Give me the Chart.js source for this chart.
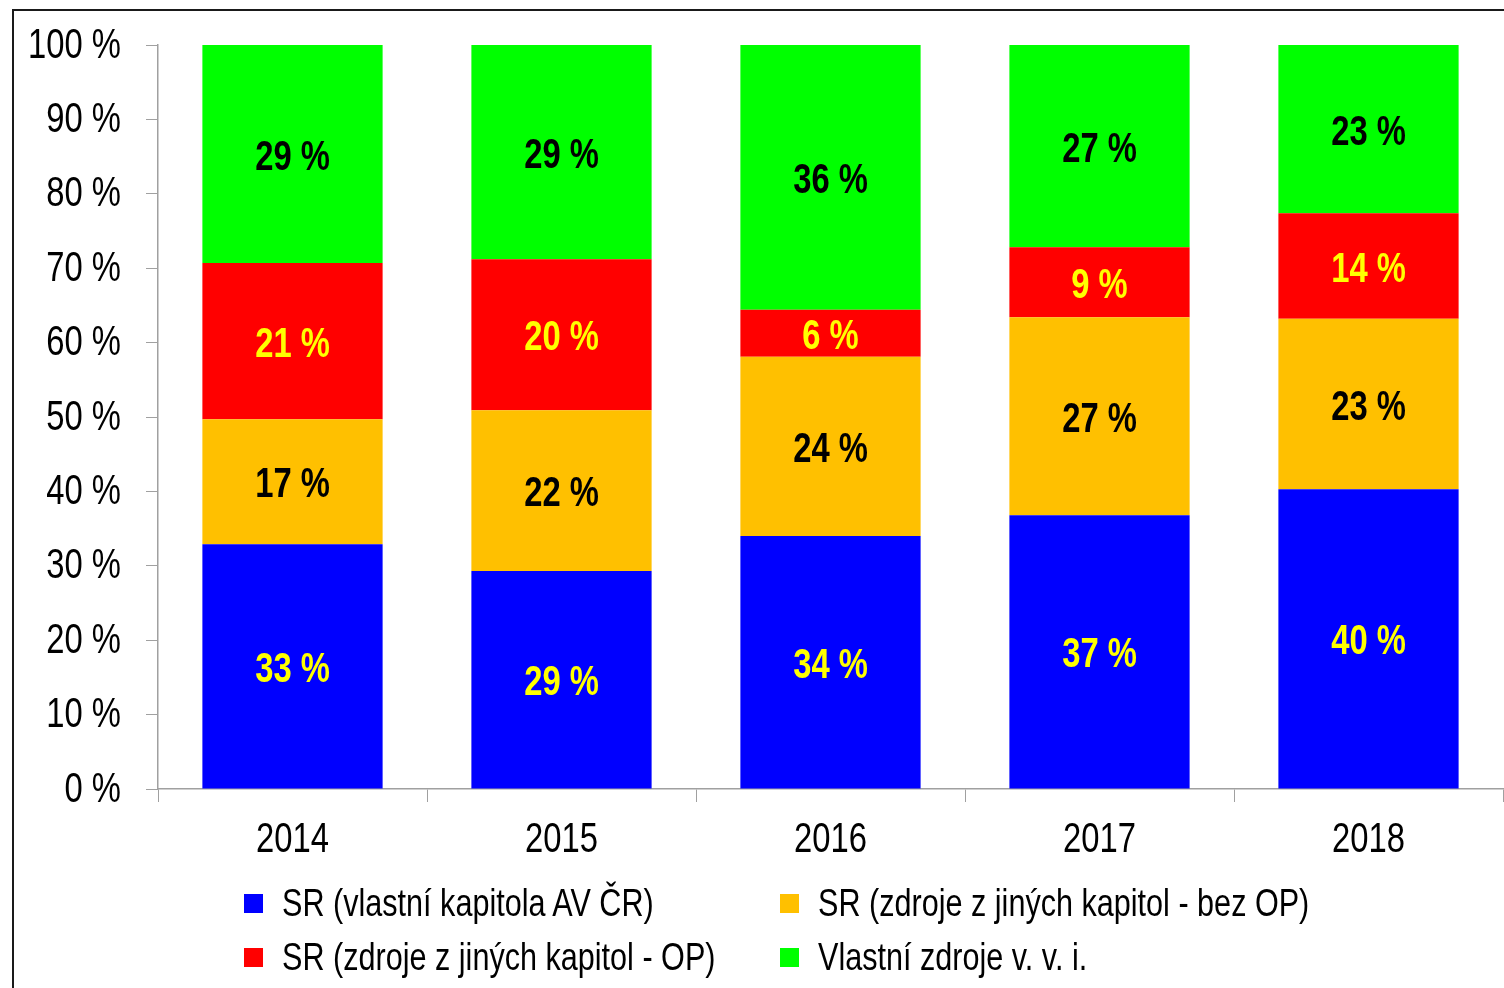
<!DOCTYPE html>
<html>
<head>
<meta charset="utf-8">
<script src="https://cdn.jsdelivr.net/npm/chart.js@4.4.1/dist/chart.umd.min.js"></script>
<style>
    html, body { margin: 0; padding: 0; background: #fff; overflow: hidden; }
    #page { position: relative; width: 1504px; height: 988px; }
    #frame {
        position: absolute; left: 12px; top: 9px; width: 1600px; height: 1100px;
        border: 2px solid #1a1a1a; box-sizing: border-box;
    }
    #chart { position: absolute; left: 0; top: 0; }
    #legend { position: absolute; left: 0; top: 0; width: 1504px; height: 988px; pointer-events: none; }
    .legend-item { position: absolute; height: 50px; display: flex; align-items: center; white-space: nowrap; }
    .legend-box { width: 19px; height: 19px; margin-right: 19px; flex: none; }
    .legend-text {
        font-family: "Liberation Sans", Arial, sans-serif; font-size: 38px; color: #000;
        transform: scaleX(0.805); transform-origin: left center; display: inline-block;
    }
</style>
</head>
<body>
<div id="page">
    <div id="frame"></div>
    <canvas id="chart" width="1504" height="988"></canvas>
    <div id="legend"></div>
</div>
<script>
const years = ['2014', '2015', '2016', '2017', '2018'];

const seriesNames = [
    'SR (vlastní kapitola AV ČR)',
    'SR (zdroje z jiných kapitol - bez OP)',
    'SR (zdroje z jiných kapitol - OP)',
    'Vlastní zdroje v. v. i.'
];

// percent shares per year
const ownChapter = [32.9, 29.3, 34.0, 36.8, 40.3];
const otherNoOp = [16.8, 21.6, 24.1, 26.6, 22.9];
const otherOp = [21.0, 20.3, 6.3, 9.4, 14.2];
const ownSources = [29.3, 28.8, 35.6, 27.2, 22.6];

const yTicks = [0, 10, 20, 30, 40, 50, 60, 70, 80, 90, 100];

const colors = ['#0000ff', '#ffc000', '#ff0000', '#00ff00'];
const labelColors = ['#ffff00', '#000000', '#ffff00', '#000000'];

const fontFamily = '"Liberation Sans", Arial, sans-serif';
const squeeze = 0.78; // fake the narrow face of the original
const axisColor = '#a0a0a0';

function narrowText(ctx, text, x, y, align) {
    ctx.save();
    ctx.translate(x, y);
    ctx.scale(squeeze, 1);
    ctx.textAlign = align;
    ctx.textBaseline = 'middle';
    ctx.fillText(text, 0, 0);
    ctx.restore();
}

// tick labels and segment values drawn with the squeezed font
const narrowLabels = {
    id: 'narrowLabels',
    afterDraw(chart) {
        const ctx = chart.ctx;
        const { x: xScale, y: yScale } = chart.scales;

        ctx.save();
        ctx.fillStyle = '#000';
        ctx.font = '42px ' + fontFamily;
        yScale.ticks.forEach((t) => {
            narrowText(ctx, t.value + ' %', xScale.left - 37, yScale.getPixelForValue(t.value) + 1, 'right');
        });
        years.forEach((year, i) => {
            narrowText(ctx, year, xScale.getPixelForValue(i), 840, 'center');
        });

        ctx.font = 'bold 42px ' + fontFamily;
        chart.data.datasets.forEach((ds, i) => {
            const meta = chart.getDatasetMeta(i);
            meta.data.forEach((bar, j) => {
                const { x, y, base } = bar.getProps(['x', 'y', 'base'], true);
                ctx.fillStyle = labelColors[i];
                narrowText(ctx, Math.round(ds.data[j]) + ' %', x, (y + base) / 2 + 4, 'center');
            });
        });
        ctx.restore();
    }
};

const allSeries = [ownChapter, otherNoOp, otherOp, ownSources];

const ctx = document.getElementById('chart').getContext('2d');
const chart = new Chart(ctx, {
    type: 'bar',
    data: {
        labels: years,
        datasets: allSeries.map((values, i) => ({
            label: seriesNames[i],
            data: values,
            backgroundColor: colors[i],
            borderWidth: 0,
            categoryPercentage: 1,
            barPercentage: 0.67
        }))
    },
    options: {
        responsive: false,
        animation: false,
        layout: { padding: { left: 0, top: 45, right: 1, bottom: 0 } },
        plugins: {
            legend: { display: false },
            tooltip: { enabled: false }
        },
        scales: {
            x: {
                stacked: true,
                grid: {
                    display: true,
                    drawOnChartArea: false,
                    drawTicks: true,
                    tickLength: 13,
                    color: axisColor
                },
                border: { display: true, color: axisColor, width: 1.5 },
                ticks: { display: false },
                afterFit: (scale) => { scale.height = 199; }
            },
            y: {
                stacked: true,
                min: 0,
                max: 100,
                afterBuildTicks: (scale) => { scale.ticks = yTicks.map(v => ({ value: v })); },
                grid: {
                    display: true,
                    drawOnChartArea: false,
                    drawTicks: true,
                    tickLength: 12,
                    color: axisColor
                },
                border: { display: true, color: axisColor, width: 1.5 },
                ticks: { display: false },
                afterFit: (scale) => { scale.width = 158; }
            }
        }
    },
    plugins: [narrowLabels]
});

// legend in two columns
const legendPos = [
    { left: 244, top: 903 },
    { left: 780, top: 903 },
    { left: 244, top: 957 },
    { left: 780, top: 957 }
];
const legend = document.getElementById('legend');
seriesNames.forEach((name, i) => {
    const item = document.createElement('div');
    item.className = 'legend-item';
    item.style.left = legendPos[i].left + 'px';
    item.style.top = (legendPos[i].top - 25) + 'px';
    item.innerHTML = `<span class="legend-box" style="background:${colors[i]}"></span><span class="legend-text">${name}</span>`;
    legend.appendChild(item);
});
</script>
</body>
</html>
